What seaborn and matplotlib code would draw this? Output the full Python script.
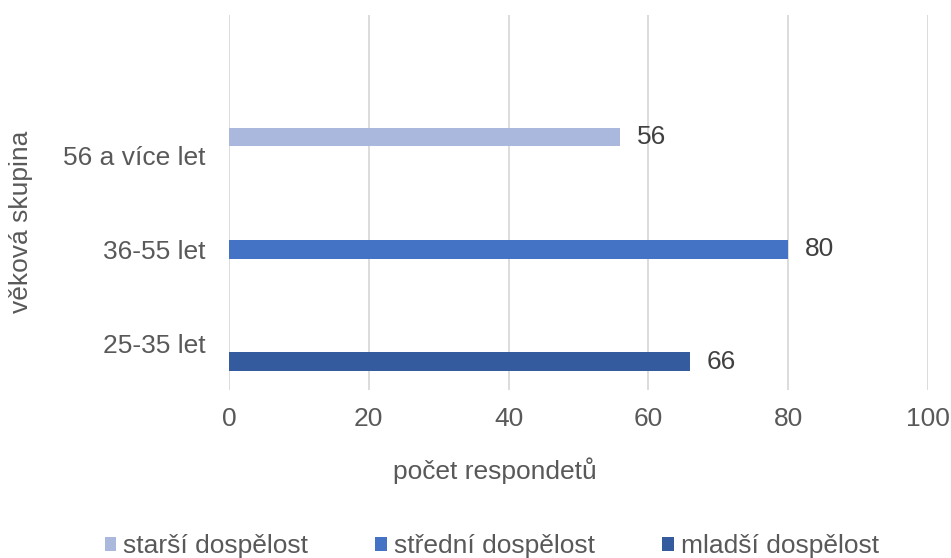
import matplotlib
matplotlib.use("Agg")
import matplotlib.pyplot as plt
import seaborn as sns
import pandas as pd

# Respondents per age group, each group drawn in its own series colour
age_groups = ["56 a více let", "36-55 let", "25-35 let"]
series = ["starší dospělost", "střední dospělost", "mladší dospělost"]
counts = [56, 80, 66]
colors = ["#A9B8DC", "#4472C4", "#345B9E"]
x_ticks = [0, 20, 40, 60, 80, 100]

df = pd.DataFrame({"skupina": age_groups, "serie": series, "pocet": counts})

sns.set_theme(style="white")
plt.rcParams["font.family"] = ["Liberation Sans", "DejaVu Sans"]

fig = plt.figure(figsize=(9.51, 5.58), dpi=100)
ax = fig.add_axes([0.2408, 0.3011, 0.7350, 0.6720])

sns.barplot(data=df, x="pocet", y="skupina", hue="serie", order=age_groups,
            hue_order=series, palette=colors, width=0.6, dodge=True,
            saturation=1, errorbar=None, orient="h", ax=ax, legend=True,
            linewidth=0)

ax.set_ylim(2.5, -1.5)
ax.set_xlim(0, 100)
ax.set_xticks(x_ticks)
ax.xaxis.grid(True, color="#D9D9D9", linewidth=1.3)
ax.yaxis.grid(False)
ax.set_axisbelow(True)
for s in ax.spines.values():
    s.set_visible(False)

ax.tick_params(axis="x", length=0, pad=12, labelsize=19, labelcolor="#595959")
ax.tick_params(axis="y", length=0, pad=17, labelsize=19, labelcolor="#595959")

for cont in ax.containers:
    ax.bar_label(cont, fmt="%d", padding=12, fontsize=19, color="#404040")

ax.set_xlabel("počet respondetů", fontsize=19, color="#595959")
ax.xaxis.set_label_coords(0.381, -0.18)
ax.set_ylabel("věková skupina", fontsize=19, color="#595959")
ax.yaxis.set_label_coords(-0.28, 0.448)

handles, labels = ax.get_legend_handles_labels()
ax.get_legend().remove()
fig.legend(handles, labels, loc="center", bbox_to_anchor=(0.517, 0.021),
           ncol=3, frameon=False, fontsize=19, handlelength=0.45,
           handleheight=0.45, handletextpad=0.25, columnspacing=2.55,
           labelcolor="#595959")

fig.savefig("out.png", dpi=100, facecolor="white")
